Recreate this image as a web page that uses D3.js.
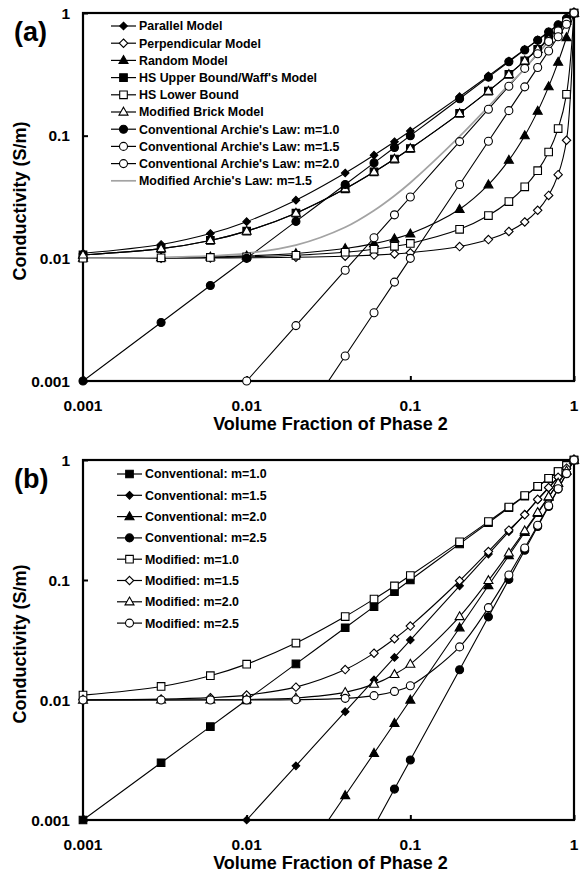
<!DOCTYPE html>
<html><head><meta charset="utf-8">
<script src="https://cdn.jsdelivr.net/npm/d3@7"></script>
<style>
html,body{margin:0;padding:0;background:#fff;}
svg{display:block;font-family:Arial,"Liberation Sans",Helvetica,sans-serif;font-weight:bold;}
</style></head><body>
<svg id="c" width="584" height="875"></svg>
<script>
// Volume fraction of phase 2
const xFrac = [0.001,0.003,0.006,0.01,0.02,0.04,0.06,0.08,0.1,0.2,0.3,0.4,0.5,0.6,0.7,0.8,0.9,1];
// Panel (a)
const parallel      = [0.01099,0.01297,0.01594,0.0199,0.0298,0.0496,0.0694,0.0892,0.109,0.208,0.307,0.406,0.505,0.604,0.703,0.802,0.901,1];
const perpendicular = [0.01001,0.01003,0.01006,0.0101,0.0102,0.01041,0.01063,0.01086,0.0111,0.01247,0.01422,0.01656,0.0198,0.02463,0.03257,0.04808,0.09174,1];
const randomModel   = [0.01005,0.01014,0.01028,0.01047,0.01096,0.01202,0.01318,0.01445,0.01585,0.02512,0.03981,0.0631,0.1,0.1585,0.2512,0.3981,0.631,1];
const hsUpper       = [0.01066,0.01199,0.01399,0.01666,0.02335,0.03689,0.0506,0.0645,0.0786,0.152,0.2309,0.3157,0.4072,0.5062,0.6138,0.731,0.8592,1];
const hsLower       = [0.01003,0.01009,0.01018,0.01029,0.01059,0.01121,0.01186,0.01253,0.01323,0.01723,0.02232,0.02904,0.03829,0.05183,0.07358,0.1142,0.2172,1];
const modBrick      = [0.01066,0.01199,0.01399,0.01666,0.02335,0.03689,0.0506,0.0645,0.0786,0.152,0.2309,0.3157,0.4072,0.5062,0.6138,0.731,0.8592,1];
const archieM10     = [0.001,0.003,0.006,0.01,0.02,0.04,0.06,0.08,0.1,0.2,0.3,0.4,0.5,0.6,0.7,0.8,0.9,1];
const archieM15     = [0.0000316,0.000164,0.000465,0.001,0.002828,0.008,0.0147,0.02263,0.03162,0.08944,0.1643,0.253,0.3536,0.4648,0.5857,0.7155,0.8538,1];
const archieM20     = [0.000001,0.000009,0.000036,0.0001,0.0004,0.0016,0.0036,0.0064,0.01,0.04,0.09,0.16,0.25,0.36,0.49,0.64,0.81,1];
const modArchieM15  = [0.01003,0.01016,0.01046,0.01099,0.0128,0.01792,0.02455,0.0324,0.04131,0.09855,0.1727,0.2605,0.35,0.4701,0.5898,0.7184,0.8553,1];
// Panel (b)
const convM10 = [0.001,0.003,0.006,0.01,0.02,0.04,0.06,0.08,0.1,0.2,0.3,0.4,0.5,0.6,0.7,0.8,0.9,1];
const convM15 = [0.0000316,0.000164,0.000465,0.001,0.002828,0.008,0.0147,0.02263,0.03162,0.08944,0.1643,0.253,0.3536,0.4648,0.5857,0.7155,0.8538,1];
const convM20 = [0.000001,0.000009,0.000036,0.0001,0.0004,0.0016,0.0036,0.0064,0.01,0.04,0.09,0.16,0.25,0.36,0.49,0.64,0.81,1];
const convM25 = [0.0000000316,0.000000493,0.00000279,0.00001,0.0000566,0.00032,0.000882,0.00181,0.003162,0.01789,0.0493,0.1012,0.1768,0.2789,0.41,0.5724,0.7684,1];
const modM10  = [0.01099,0.01297,0.01594,0.0199,0.0298,0.0496,0.0694,0.0892,0.109,0.208,0.307,0.406,0.505,0.604,0.703,0.802,0.901,1];
const modM15  = [0.01003,0.01016,0.01046,0.01099,0.0128,0.01792,0.02455,0.0324,0.04131,0.09855,0.1727,0.2605,0.35,0.4701,0.5898,0.7184,0.8553,1];
const modM20  = [0.01,0.01001,0.01004,0.0101,0.0104,0.01158,0.01356,0.01634,0.0199,0.0496,0.0991,0.1684,0.2575,0.3664,0.4951,0.6436,0.8119,1];
const modM25  = [0.01,0.01,0.01,0.01001,0.01006,0.01032,0.01087,0.01179,0.01313,0.02771,0.0588,0.1102,0.185,0.2861,0.4159,0.5767,0.7708,1];

const xTicks = [0.001,0.01,0.1,1];
const xTickLabels = ["0.001","0.01","0.1","1"];
const yTicks = [0.001,0.01,0.1,1];
const yTickLabels = ["0.001","0.01","0.1","1"];

const seriesA = [
  {name:"Parallel Model", data:parallel, m:"diamondS", fill:"#000"},
  {name:"Perpendicular Model", data:perpendicular, m:"diamond", fill:"#fff"},
  {name:"Random Model", data:randomModel, m:"triangle", fill:"#000"},
  {name:"HS Upper Bound/Waff's Model", data:hsUpper, m:"square", fill:"#000"},
  {name:"HS Lower Bound", data:hsLower, m:"square", fill:"#fff"},
  {name:"Modified Brick Model", data:modBrick, m:"triangle", fill:"#fff"},
  {name:"Conventional Archie's Law: m=1.0", data:archieM10, m:"circle", fill:"#000"},
  {name:"Conventional Archie's Law: m=1.5", data:archieM15, m:"circle", fill:"#fff"},
  {name:"Conventional Archie's Law: m=2.0", data:archieM20, m:"circle", fill:"#fff"},
  {name:"Modified Archie's Law: m=1.5", data:modArchieM15, m:null, fill:null, gray:true}
];
const seriesB = [
  {name:"Conventional: m=1.0", data:convM10, m:"square", fill:"#000"},
  {name:"Conventional: m=1.5", data:convM15, m:"diamondS", fill:"#000"},
  {name:"Conventional: m=2.0", data:convM20, m:"triangle", fill:"#000"},
  {name:"Conventional: m=2.5", data:convM25, m:"circle", fill:"#000"},
  {name:"Modified: m=1.0", data:modM10, m:"square", fill:"#fff"},
  {name:"Modified: m=1.5", data:modM15, m:"diamond", fill:"#fff"},
  {name:"Modified: m=2.0", data:modM20, m:"triangle", fill:"#fff"},
  {name:"Modified: m=2.5", data:modM25, m:"circle", fill:"#fff"}
];

const svg = d3.select("#c");

function markerPath(t){
  switch(t){
    case "diamondS": return "M0,-3.8L3.8,0L0,3.8L-3.8,0Z";
    case "diamond": return "M0,-4.2L4.2,0L0,4.2L-4.2,0Z";
    case "square": return "M-3.8,-3.8H3.8V3.8H-3.8Z";
    case "triangle": return "M0,-4.8L4.5,3.1L-4.5,3.1Z";
    case "circle": return d3.symbol(d3.symbolCircle, Math.PI*4*4)();
  }
}

function panel(cfg){
  const x = d3.scaleLog().domain([0.001,1]).range([cfg.left,cfg.right]);
  const y = d3.scaleLog().domain([0.001,1]).range([cfg.bottom,cfg.top]);
  const g = svg.append("g");
  const clipId = "clip"+cfg.id;
  svg.append("defs").append("clipPath").attr("id",clipId)
    .append("rect").attr("x",cfg.left).attr("y",cfg.top)
    .attr("width",cfg.right-cfg.left).attr("height",cfg.bottom-cfg.top);

  const line = d3.line().x(d=>x(d[0])).y(d=>y(d[1])).curve(d3.curveCatmullRom.alpha(0.5));
  const lines = g.append("g").attr("clip-path","url(#"+clipId+")");
  cfg.series.forEach(s=>{
    const pts = xFrac.map((v,i)=>[v,s.data[i]]);
    lines.append("path").attr("d",line(pts)).attr("fill","none")
      .attr("stroke", s.gray ? "#a3a3a3" : "#000")
      .attr("stroke-width", s.gray ? 1.7 : 1.1);
  });
  // frame
  g.append("rect").attr("x",cfg.left).attr("y",cfg.top)
    .attr("width",cfg.right-cfg.left).attr("height",cfg.bottom-cfg.top)
    .attr("fill","none").attr("stroke","#000").attr("stroke-width",2.2);
  // inward ticks
  const xAxis = d3.axisBottom(x).tickValues(xTicks).tickSize(-5).tickFormat("");
  g.append("g").attr("transform","translate(0,"+cfg.bottom+")").call(xAxis)
    .call(a=>a.select(".domain").remove())
    .selectAll("line").attr("stroke","#000").attr("stroke-width",2);
  const yAxis = d3.axisLeft(y).tickValues(yTicks).tickSize(-5).tickFormat("");
  g.append("g").attr("transform","translate("+cfg.left+",0)").call(yAxis)
    .call(a=>a.select(".domain").remove())
    .selectAll("line").attr("stroke","#000").attr("stroke-width",2);
  // markers
  const mk = g.append("g");
  cfg.series.forEach(s=>{
    if(!s.m) return;
    xFrac.forEach((v,i)=>{
      const val = s.data[i];
      if(val < 0.00099) return;
      mk.append("path").attr("d",markerPath(s.m))
        .attr("transform","translate("+x(v)+","+y(val)+")")
        .attr("fill",s.fill).attr("stroke","#000").attr("stroke-width",1.1);
    });
  });
  // tick labels
  xTicks.forEach((t,i)=>{
    g.append("text").attr("x",x(t)).attr("y",cfg.bottom+30).attr("text-anchor","middle")
      .attr("font-size",15.5).text(xTickLabels[i]);
  });
  yTicks.forEach((t,i)=>{
    g.append("text").attr("x",cfg.left-13).attr("y",y(t)).attr("dy","0.36em").attr("text-anchor","end")
      .attr("font-size",15.5).text(yTickLabels[i]);
  });
  // axis titles
  g.append("text").attr("x",(cfg.left+cfg.right)/2+2).attr("y",cfg.bottom+49)
    .attr("text-anchor","middle").attr("font-size",18).text("Volume Fraction of Phase 2");
  g.append("text").attr("transform","translate(26,"+((cfg.top+cfg.bottom)/2+4)+") rotate(-90)")
    .attr("text-anchor","middle").attr("font-size",18).text("Conductivity (S/m)");
  g.append("text").attr("x",14).attr("y",cfg.top+28).attr("font-size",27).text(cfg.label);
  // legend
  const lg = g.append("g");
  cfg.series.forEach((s,i)=>{
    const yy = cfg.legY + i*cfg.legStep;
    lg.append("line").attr("x1",cfg.legX).attr("x2",cfg.legX+25).attr("y1",yy).attr("y2",yy)
      .attr("stroke", s.gray ? "#a3a3a3" : "#000").attr("stroke-width", s.gray?1.7:1.2);
    if(s.m){
      lg.append("path").attr("d",markerPath(s.m)).attr("transform","translate("+(cfg.legX+12.5)+","+yy+")")
        .attr("fill",s.fill).attr("stroke","#000").attr("stroke-width",1.1);
    }
    lg.append("text").attr("x",cfg.legX+28).attr("y",yy).attr("dy","0.36em")
      .attr("font-size",12.4).text(s.name);
  });
}

panel({id:"a",left:83,right:574,top:13,bottom:381,label:"(a)",series:seriesA,legX:111,legY:26,legStep:17.2});
panel({id:"b",left:83,right:574,top:460,bottom:820,label:"(b)",series:seriesB,legX:117,legY:474,legStep:21.3});
</script>
</body></html>
